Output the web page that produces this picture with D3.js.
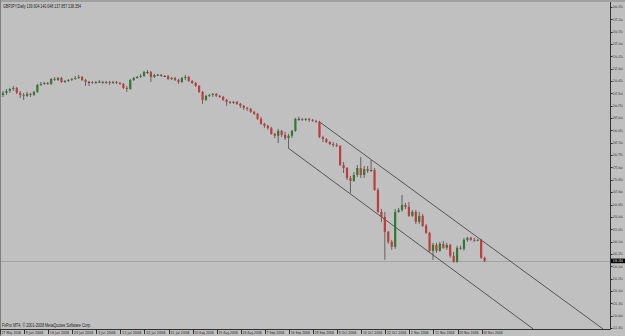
<!DOCTYPE html>
<html><head><meta charset="utf-8">
<script src="https://cdn.jsdelivr.net/npm/d3@7"></script>
<style>html,body{margin:0;padding:0;background:#c0c0c0;}svg{display:block;}</style>
</head><body>
<svg id="chart" width="625" height="336"></svg>
<script>
const title = "GBPJPY,Daily  139.604 140.048 137.857 138.354";
const footer = "FxPro MT4, \u00A9 2001-2008 MetaQuotes Software Corp.";
const dateLabels = ["27 May 2008","5 Jun 2008","16 Jun 2008","24 Jun 2008","3 Jul 2008","13 Jul 2008","22 Jul 2008","31 Jul 2008","10 Aug 2008","19 Aug 2008","28 Aug 2008","7 Sep 2008","16 Sep 2008","25 Sep 2008","5 Oct 2008","14 Oct 2008","22 Oct 2008","2 Nov 2008","11 Nov 2008","20 Nov 2008","30 Nov 2008"];
const priceTicks = [240.150,235.200,230.250,225.300,220.350,215.400,210.450,205.500,200.550,195.600,190.650,185.700,180.750,175.800,170.850,165.900,160.950,156.000,151.050,146.100,141.150,136.200,131.250,126.300,121.350,116.400,111.450];
const lastPrice = 138.354;

const opens = [204.9,205.7,206.5,207.3,207.7,205.7,204.9,204.5,205.3,204.9,206.1,208.9,209.3,209.7,209.3,211.3,210.9,211.7,210.1,210.5,
210.9,211.3,211.7,212.1,210.9,210.1,210.0,209.7,210.1,210.2,209.7,210.1,209.7,210.1,209.7,209.3,207.7,207.3,210.9,211.7,
212.1,212.5,214.1,214.0,212.1,212.9,213.0,212.5,212.4,211.3,211.7,210.9,210.1,211.7,212.1,210.5,209.7,208.5,206.1,202.9,
204.5,204.9,205.3,204.5,204.1,202.9,202.1,201.7,202.1,201.3,200.5,199.7,199.3,198.1,197.3,195.3,193.3,192.5,191.7,189.3,
188.5,190.5,188.9,187.6,188.5,190.5,195.3,195.2,194.9,195.3,194.9,194.5,194.1,188.0,187.2,186.0,185.2,184.8,184.4,176.8,
175.6,171.6,170.4,172.8,175.6,172.8,175.2,174.4,174.8,166.8,158.0,156.0,150.0,146.0,144.0,158.0,158.8,160.8,160.0,156.4,
158.0,154.0,156.4,152.4,149.6,142.4,144.8,142.4,145.2,143.6,144.8,140.4,138.0,143.6,143.2,146.8,147.6,146.8,146.4,146.7,139.6];
const highs = [206.5,207.3,207.7,208.5,208.1,206.5,205.7,206.1,205.7,206.5,209.3,210.1,210.1,210.1,211.7,212.1,212.1,212.1,210.9,211.3,
211.7,212.5,212.9,212.5,211.3,210.5,210.5,210.5,210.9,210.5,210.5,210.5,210.5,210.5,210.1,209.7,208.5,211.3,212.1,212.5,
213.3,214.5,214.9,214.5,213.3,213.3,213.3,212.9,212.9,212.1,212.1,211.3,212.1,212.9,212.5,210.9,210.1,208.9,206.5,204.9,
205.3,205.7,205.7,204.9,204.5,203.3,202.5,202.5,202.5,201.7,200.9,200.1,199.7,198.5,197.7,196.1,193.7,192.9,192.1,189.7,
191.3,190.9,190.1,189.3,190.9,195.7,196.1,195.7,195.7,195.7,195.3,194.9,194.5,188.5,187.6,186.4,186.0,185.6,184.8,178.0,
176.0,172.4,174.0,176.8,180.0,176.4,176.4,178.8,175.6,167.6,159.2,158.0,150.4,146.8,159.2,159.6,164.8,161.6,162.0,158.8,
158.8,158.0,157.2,153.2,150.0,145.6,145.6,146.0,146.4,145.6,145.2,142.0,144.4,144.4,147.6,148.0,148.0,147.6,147.2,147.2,140.048];
const lows = [204.1,204.9,205.7,206.5,205.3,203.7,202.9,204.1,204.1,204.5,205.7,208.5,208.9,208.9,208.9,210.5,210.5,209.7,209.7,210.1,
210.5,210.9,211.3,210.5,208.5,208.5,209.3,209.3,209.7,209.3,209.3,208.9,209.3,209.3,208.9,207.3,206.1,206.9,210.5,211.3,
211.7,212.1,213.3,210.1,211.7,212.5,212.1,212.1,210.9,210.9,210.5,209.3,209.7,210.9,210.1,209.3,208.1,205.7,201.3,202.5,
204.1,204.1,204.1,203.7,202.5,200.5,201.3,201.3,200.9,199.7,198.9,198.5,197.7,196.9,194.9,192.9,191.7,190.9,188.9,187.6,
185.6,188.0,186.8,183.6,187.6,190.1,194.5,194.5,194.5,194.1,194.1,193.7,187.6,186.0,185.6,184.8,184.0,184.0,176.4,173.6,
170.8,165.6,170.0,172.0,171.6,171.6,173.6,174.0,166.4,157.6,154.0,138.8,145.2,142.8,143.2,157.6,158.0,159.2,156.0,156.0,
153.2,153.2,152.0,149.2,142.0,138.8,141.6,142.0,143.2,142.8,139.6,137.6,137.6,142.8,142.4,146.0,146.4,146.0,146.2,139.2,137.857];
const closes = [205.7,206.5,207.3,207.7,205.7,204.9,204.5,205.3,204.9,206.1,208.9,209.3,209.7,209.3,211.3,210.9,211.7,210.1,210.5,210.9,
211.3,211.7,212.1,210.9,210.1,210.0,209.7,210.1,210.2,209.7,210.1,209.7,210.1,209.7,209.3,207.7,207.3,210.9,211.7,212.1,
212.5,214.1,214.0,212.1,212.9,213.0,212.5,212.4,211.3,211.7,210.9,210.1,211.7,212.1,210.5,209.7,208.5,206.1,202.9,204.5,
204.9,205.3,204.5,204.1,202.9,202.1,201.7,202.1,201.3,200.5,199.7,199.3,198.1,197.3,195.3,193.3,192.5,191.7,189.3,188.5,
190.5,188.9,187.6,188.5,190.5,195.3,195.2,194.9,195.3,194.9,194.5,194.1,188.0,187.2,186.0,185.2,184.8,184.4,176.8,175.6,
171.6,170.4,172.8,175.6,172.8,175.2,174.4,174.8,166.8,158.0,156.0,150.0,146.0,144.0,158.0,158.8,160.8,160.0,156.4,158.0,
154.0,156.4,152.4,149.6,142.4,144.8,142.4,145.2,143.6,144.8,140.4,138.0,143.6,143.2,146.8,147.6,146.8,146.4,146.7,139.6,138.354];

// channel lines as [barIndex, price] endpoints
const channelUpper = [[92, 194.1], [174.4, 111.1]];
const channelLower = [[82.9, 183.6], [154.1, 111.1]];

const W = 625, H = 336;
const plot = {left: 1, right: 610, top: 2, bottom: 329};
const svg = d3.select("#chart");
const font = "'Liberation Sans', Arial, sans-serif";
const narrow = "'Liberation Sans Narrow', 'DejaVu Sans Condensed', 'Liberation Sans', sans-serif";

const x = d3.scaleLinear().domain([0, 140]).range([3, 484.6]);
const y = d3.scaleLinear().domain([111.45, 240.15]).range([328, 7]);

// background
svg.append("rect").attr("x",0).attr("y",0).attr("width",W).attr("height",H).attr("fill","#c0c0c0");
svg.append("rect").attr("x",0).attr("y",0).attr("width",W).attr("height",2).attr("fill","#a0a0a0");
svg.append("rect").attr("x",0).attr("y",0).attr("width",1).attr("height",H).attr("fill","#808080");

const defs = svg.append("defs");
defs.append("clipPath").attr("id","pc").append("rect")
  .attr("x",plot.left).attr("y",plot.top).attr("width",plot.right-plot.left).attr("height",plot.bottom-plot.top);

const g = svg.append("g").attr("clip-path","url(#pc)");

// bid line
g.append("line").attr("x1",plot.left).attr("x2",plot.right)
  .attr("y1",Math.round(y(lastPrice))+0.5).attr("y2",Math.round(y(lastPrice))+0.5)
  .attr("stroke","#a4a4a4").attr("stroke-width",1);

// channel
const lineGen = d3.line().x(d=>x(d[0])).y(d=>y(d[1]));
[channelUpper, channelLower].forEach(c=>{
  g.append("path").attr("d", lineGen(c)).attr("fill","none").attr("stroke","#3a3a3a").attr("stroke-width",0.8);
});

// candles
const bars = d3.range(closes.length).map(i=>({i, o:opens[i], h:highs[i], l:lows[i], c:closes[i]}));
const cg = g.append("g");
cg.selectAll("line.wick").data(bars).join("line").attr("class","wick")
  .attr("x1",d=>x(d.i)).attr("x2",d=>x(d.i))
  .attr("y1",d=>y(d.h)).attr("y2",d=>y(d.l))
  .attr("stroke","#4a4a4a").attr("stroke-width",0.8);
const bw = 2.2;
cg.selectAll("rect.body").data(bars).join("rect").attr("class","body")
  .attr("x",d=>x(d.i)-bw/2).attr("width",bw)
  .attr("y",d=>Math.min(y(d.o),y(d.c)))
  .attr("height",d=>Math.max(0.9, Math.abs(y(d.o)-y(d.c))))
  .attr("fill",d=> Math.abs(d.c-d.o) < 0.25 ? "#3c3c3c" : (d.c>d.o ? "#2f7a2f" : "#c23b3b"));

// axes lines
svg.append("line").attr("x1",plot.right+0.5).attr("x2",plot.right+0.5).attr("y1",plot.top).attr("y2",plot.bottom+0.5)
  .attr("stroke","#303030").attr("stroke-width",1);
svg.append("line").attr("x1",0).attr("x2",plot.right+0.5).attr("y1",plot.bottom+0.5).attr("y2",plot.bottom+0.5)
  .attr("stroke","#303030").attr("stroke-width",1);

// price axis
const pa = svg.append("g");
pa.selectAll("line").data(priceTicks).join("line")
  .attr("x1",plot.right+1).attr("x2",plot.right+2.5)
  .attr("y1",d=>Math.round(y(d))+0.5).attr("y2",d=>Math.round(y(d))+0.5)
  .attr("stroke","#303030");
pa.selectAll("text").data(priceTicks).join("text")
  .attr("x",plot.right+2.8).attr("y",d=>y(d)+1.3)
  .attr("font-family",narrow).attr("font-size",3.3).attr("fill","#202020")
  .attr("textLength",10).attr("lengthAdjust","spacingAndGlyphs")
  .text(d=>d.toFixed(3));
// last price box
const ly = y(lastPrice);
pa.append("rect").attr("x",plot.right+1).attr("y",ly-2.3).attr("width",14).attr("height",4.6).attr("fill","#000");
pa.append("text").attr("x",plot.right+2.8).attr("y",ly+1.3).attr("font-family",narrow).attr("font-size",3.3)
  .attr("textLength",10).attr("lengthAdjust","spacingAndGlyphs")
  .attr("fill","#fff").text(lastPrice.toFixed(3));

// date axis
const da = svg.append("g");
const labelBars = dateLabels.map((d,k)=>({label:d, i:k*7}));
da.selectAll("line").data(labelBars).join("line")
  .attr("x1",d=>Math.round(x(d.i))-2.5).attr("x2",d=>Math.round(x(d.i))-2.5)
  .attr("y1",plot.bottom+1).attr("y2",plot.bottom+5).attr("stroke","#303030");
da.selectAll("text").data(labelBars).join("text")
  .attr("x",d=>x(d.i)-1.3).attr("y",plot.bottom+5.2)
  .attr("font-family",narrow).attr("font-size",4).attr("fill","#202020")
  .attr("textLength",d=>d.label.length*1.75).attr("lengthAdjust","spacingAndGlyphs")
  .text(d=>d.label);

// title and footer
svg.append("text").attr("x",3).attr("y",8).attr("font-family",font).attr("font-size",4.8).attr("fill","#202020")
  .attr("textLength",78).attr("lengthAdjust","spacingAndGlyphs").text(title);
svg.append("text").attr("x",2).attr("y",plot.bottom-2).attr("font-family",font).attr("font-size",4.8).attr("fill","#202020")
  .attr("textLength",89).attr("lengthAdjust","spacingAndGlyphs").text(footer);
</script>
</body></html>
